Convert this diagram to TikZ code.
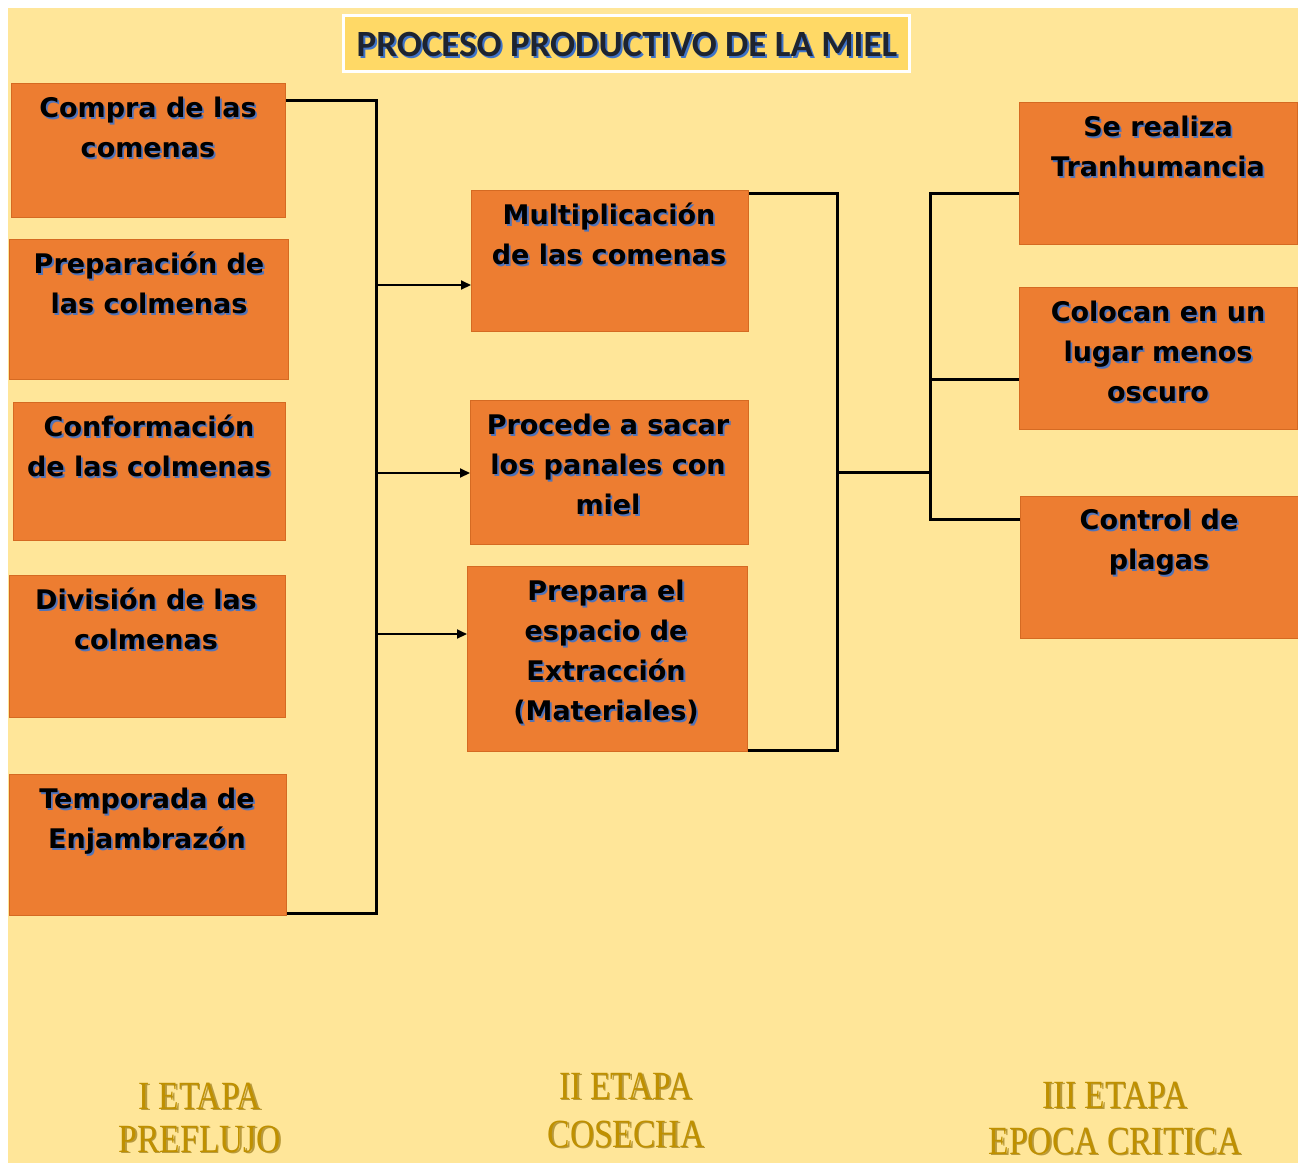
\documentclass[tikz,border=0pt]{standalone}
\usepackage{fontspec}
\setmainfont{DejaVu Sans}
\newfontfamily\titlefont{Carlito}
\newfontfamily\etapafont{Liberation Serif}
\usetikzlibrary{arrows.meta,calc}
\definecolor{bgY}{HTML}{FFE699}
\definecolor{boxO}{HTML}{ED7D31}
\definecolor{boxE}{HTML}{D56A22}
\definecolor{titleF}{HTML}{FFD966}
\definecolor{shB}{HTML}{3F73C8}
\definecolor{titleT}{HTML}{1E2430}
\definecolor{gold}{HTML}{BF9000}
\definecolor{goldD}{HTML}{8A6800}
\tikzset{
  obox/.style={draw=boxE, line width=1pt, fill=boxO, anchor=north west, inner sep=0pt},
  btxt/.style={anchor=north, align=center, inner sep=0pt, text=black,
     font=\fontsize{27}{40}\selectfont\bfseries},
  bsh/.style={btxt, text=shB, opacity=0.9},
  brk/.style={line width=3pt, draw=black},
  arr/.style={line width=2pt, draw=black, -{Triangle[length=10pt,width=9pt]}},
  etxt/.style={inner sep=0pt, text=gold, font=\etapafont\fontsize{40}{40}\selectfont},
  esh/.style={etxt, text=goldD, opacity=0.6},
  ttxt/.style={inner sep=0pt, font=\titlefont\bfseries\fontsize{37}{37}\selectfont},
}
\newcommand\btext[4]{%
  \node[bsh] (#1s) at ({#2+1.8},{#3+1.8}) {#4};
  \node[btxt] (#1t) at (#2,#3) {#4};}
\newcommand\etext[4]{%
  \node[esh] (#1s) at ({#2+1.5},{#3+1.5}) {\scalebox{0.84}[1]{#4}};
  \node[etxt] (#1t) at (#2,#3) {\scalebox{0.84}[1]{#4}};}
\begin{document}
\begin{tikzpicture}[x=1pt,y=-1pt]
\useasboundingbox (0,0) rectangle (1298,1163);
\fill[bgY] (8,8) rectangle (1298,1163);

% title
\node[draw=white, line width=3pt, fill=titleF, minimum width=566pt, minimum height=56pt, inner sep=0pt] (title) at (626.5,43) {};
\node[ttxt, text=shB] (titles) at (629,46) {PROCESO PRODUCTIVO DE LA MIEL};
\node[ttxt, text=titleT] (titlet) at (627,44) {PROCESO PRODUCTIVO DE LA MIEL};

% left column
\node[obox, minimum width=274pt, minimum height=134pt] (b1) at (11,83) {};
\node[obox, minimum width=279pt, minimum height=140pt] (b2) at (9,239) {};
\node[obox, minimum width=272pt, minimum height=138pt] (b3) at (13,402) {};
\node[obox, minimum width=276pt, minimum height=142pt] (b4) at (9,575) {};
\node[obox, minimum width=277pt, minimum height=141pt] (b5) at (9,774) {};
% middle column
\node[obox, minimum width=277pt, minimum height=141pt] (b6) at (471,190) {};
\node[obox, minimum width=278pt, minimum height=144pt] (b7) at (470,400) {};
\node[obox, minimum width=280pt, minimum height=185pt] (b8) at (467,566) {};
% right column
\node[obox, minimum width=278pt, minimum height=142pt] (b9) at (1019,102) {};
\node[obox, minimum width=278pt, minimum height=142pt] (b10) at (1019,287) {};
\node[obox, minimum width=278pt, minimum height=142pt] (b11) at (1020,496) {};

\btext{t1}{148}{89}{\strut Compra de las\\comenas}
\btext{t2}{149}{245}{\strut Preparación de\\las colmenas}
\btext{t3}{149}{408}{\strut Conformación\\de las colmenas}
\btext{t4}{146}{581}{\strut División de las\\colmenas}
\btext{t5}{147}{780}{\strut Temporada de\\Enjambrazón}
\btext{t6}{609}{196}{\strut Multiplicación\\de las comenas}
\btext{t7}{608}{406}{\strut Procede a sacar\\los panales con\\miel}
\btext{t8}{606}{572}{\strut Prepara el\\espacio de\\Extracción\\(Materiales)}
\btext{t9}{1158}{108}{\strut Se realiza\\Tranhumancia}
\btext{t10}{1158}{293}{\strut Colocan en un\\lugar menos\\oscuro}
\btext{t11}{1159}{501}{\strut Control de\\plagas}

% left bracket
\coordinate (jLt) at (376,100);
\coordinate (jLb) at (376,913);
\draw[brk] (jLt -| b1.east) -- (jLt) -- (jLb) -- (jLb -| b5.east);
\coordinate (a1) at (378,285);
\coordinate (a2) at (378,473);
\coordinate (a3) at (378,634);
\draw[arr] (a1) -- (a1 -| b6.west);
\draw[arr] (a2) -- (a2 -| b7.west);
\draw[arr] (a3) -- (a3 -| b8.west);

% middle bracket
\coordinate (jMt) at (837,193);
\coordinate (jMb) at (837,750);
\coordinate (jM) at (837,472);
\draw[brk] (jMt -| b6.east) -- (jMt) -- (jMb) -- (jMb -| b8.east);

% right bracket
\coordinate (jR1) at (930,193);
\coordinate (jR2) at (930,379);
\coordinate (jR3) at (930,519);
\draw[brk] (jM) -- (jM -| jR1);
\draw[brk] (jR1 -| b9.west) -- (jR1) -- (jR3) -- (jR3 -| b11.west);
\draw[brk] (jR2) -- (jR2 -| b10.west);

% stage labels
\etext{e1}{200}{1096}{I ETAPA}
\etext{e2}{200}{1139}{PREFLUJO}
\etext{e3}{626}{1086}{II ETAPA}
\etext{e4}{626}{1134}{COSECHA}
\etext{e5}{1115}{1095}{III ETAPA}
\etext{e6}{1115}{1141}{EPOCA CRITICA}
\end{tikzpicture}
\end{document}
